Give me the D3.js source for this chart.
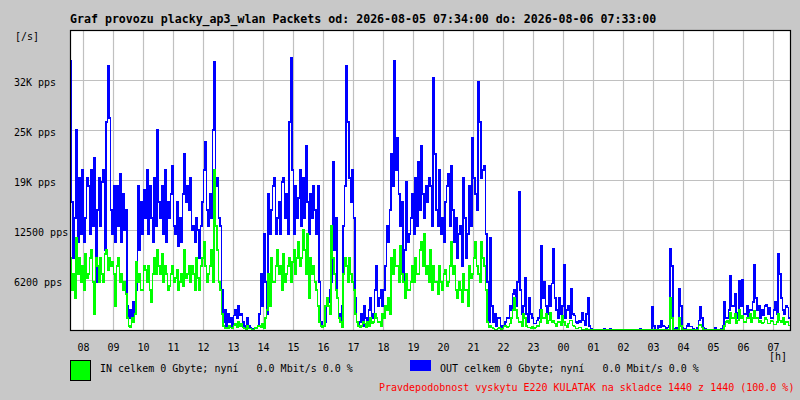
<!DOCTYPE html>
<html>
<head>
<meta charset="utf-8">
<script src="https://cdn.jsdelivr.net/npm/d3@7"></script>
<style>
body { margin: 0; background: #c8c8c8; }
svg { display: block; }
text { font-family: 'DejaVu Sans Mono', monospace; white-space: pre; }
</style>
</head>
<body>
<div class="chart"></div>
<script>
var titleText = 'Graf provozu placky_ap3_wlan Packets od: 2026-08-05 07:34:00 do: 2026-08-06 07:33:00';
var startTime = '2026-08-05T07:34:00';
var endTime = '2026-08-06T07:34:00';
var sampleMinutes = 3;
var yMax = 37.5; // thousands of packets/s
var yTickValues = [6.25, 12.5, 18.75, 25, 31.25];
var yTickLabels = ['6200 pps', '12500 pps', '19K pps', '25K pps', '32K pps'];
var inLegend = 'IN celkem 0 Gbyte; nyní   0.0 Mbit/s 0.0 %';
var outLegend = 'OUT celkem 0 Gbyte; nyní   0.0 Mbit/s 0.0 %';
var footText = 'Pravdepodobnost vyskytu E220 KULATAK na skladce 1440 z 1440 (100.0 %)';

// OUT, thousands of packets/s, one value per 3 minutes
var outValues = [
	33.7,16, 9,14, 25,11, 19,12, 20,11, 14,19, 18,12, 20,13, 21.5,6, 15,19,
	13,18.5, 20,10, 26,33, 26.5,15, 12,18, 11,18, 13,19.5, 11,17, 12.5,15, 3,1.5,
	2.5,1, 3.5,2, 5,18, 10,16, 12,17.5, 14,20, 12,18, 14,11, 19,13, 25,16,
	14,18, 12,20, 11,16, 14,17, 20.5,13, 12,16, 10.5,14, 11,17, 22,16, 18,15,
	19,12.5, 13,11, 14,12.5, 9,13, 16,20, 23.5,15, 13,17, 14,25, 33.5,18, 19,14,
	13,5, 1,2.5, 0.5,2, 1,1.5, 0.5,1.8, 2.5,1.5, 3,1.8, 2,1, 0.5,0.3, 1.5,0.5,
	0.3,0.2, 0.2,0.2, 0.3,0.5, 2,7, 3,12, 6,2, 17,12, 15,18, 19,12, 14,16,
	12,18.5, 19,14, 17,12, 26,34, 20,12, 18,14, 16.5,20, 13,19, 14,23, 16,12,
	17,14, 18,15, 12,18, 6,1, 0.5,0.5, 1,4, 3.5,5, 6,21, 10,14, 4,2,
	1,3, 13,18, 33,26, 19,16, 20,14, 4,1, 0.5,1, 2,0.5, 3,1.5, 1,2.5,
	4,1.5, 2,5, 8,3, 4,5, 3,5, 8,13, 11,15, 22,18, 33.7,20, 24,17,
	13,16, 6,10, 18.5,11, 12,14, 17,12, 19,13, 21,15, 23,17, 14,18, 16,19,
	18,13, 31.5,22, 15,13, 20,12, 14,11, 16,18, 19.5,13, 20.5,15, 11,14, 9,12,
	13,8, 19,14, 9,12, 18,13, 24,19, 17,15, 31,26, 19,20, 20.5,12, 6,1,
	11.5,3, 1,2, 0.5,1.5, 1.5,0.5, 0.3,0.5, 1,1.5, 1.5,3, 2.5,4.5, 5,3, 6,17.3,
	5,2, 3,6.5, 2,1, 4,2, 1.5,0.8, 0.8,1.2, 1.5,2.5, 10.5,4, 6,3, 2,5.5,
	3,5.8, 10.2,4, 2.5,1.5, 4,2, 3,8.2, 1.5,2.5, 3,1.5, 5.2,2, 1.8,1, 0.8,1.2,
	1,2.2, 1.2,0.6, 2,4, 0.5,0.2, 0,0, 0,0, 0,0, 0,0, 0.2,0, 0,0,
	0.2,0.1, 0,0, 0,0, 0,0, 0,0, 0,0, 0,0, 0,0, 0,0, 0,0,
	0.2,0, 0,0, 0,0, 0,0, 2.9,0.5, 0,0, 0.5,0.3, 1.2,0.5, 0.4,0.2, 0.3,0.5,
	10.2,8, 0.2,0.1, 0.3,0.2, 5.2,3, 0.3,0.2, 0.2,0.5, 0.8,0.4, 0.4,0.2, 0.1,0.1, 0.3,1.2,
	2.9,1.5, 0.3,0.2, 0.1,0, 0,0, 0,0, 0.3,0.1, 0,0, 0.2,0.5, 3.5,1.5, 1.5,2.5,
	6.8,3, 3,4.5, 2.2,1.5, 6.2,3, 6.3,2, 2,3, 1.5,2.5, 2.5,3.5, 8.2,4, 2.5,3,
	1.5,2.5, 1.8,3, 3.2,2, 2.8,1.5, 1.5,2.5, 3.5,2, 9.5,7, 4,2.5, 2,3, 2.8,1.5
];

// IN, thousands of packets/s, one value per 3 minutes
var inValues = [
	9,5, 7,4, 11.5,7, 9,6, 8,5, 9.5,6.5, 7,9, 10,6, 2,9, 8,6,
	9,7, 6,9.5, 10,7.5, 9,8, 8.5,7, 3,8, 9,6, 7,5, 6,4.5, 1.5,0.5,
	0.3,1.5, 1,2, 8.5,6, 7,5, 5,8, 7.5,6, 8,5, 3.5,7, 9,7, 10,8,
	7,9.5, 6,8, 7,5, 5.5,7, 8,6, 6.5,7.5, 5,6, 7,5.5, 10,6.5, 7,8,
	6,8, 7,5, 9,6.5, 5,8, 9,11, 8,6, 7,8, 10,6, 20,13, 10,6,
	5,2, 0.5,0.2, 0.3,0.2, 0.5,0.3, 0.2,0.6, 0.8,0.3, 1,0.5, 0.8,0.3, 0.2,0.1, 0.5,0.2,
	0.2,0.1, 0.1,0.3, 0.2,0.5, 0.5,0.3, 0.8,0.2, 1.5,2.5, 7,3, 9,6, 6,8, 10,7,
	8,5, 9.5,6, 7,8, 9,6, 8.5,10, 7,9, 11,8, 9,12.5, 10,7, 12,4,
	9,7, 8,6, 5,3, 1,0.5, 0.3,0.5, 3,4, 3,2, 13,9, 7,5, 4,1.5,
	1,0.3, 7,9, 8,6, 9,7, 6,5, 2,1, 0.5,0.3, 0.5,1, 0.8,0.3, 1,0.5,
	1.5,0.8, 1,2, 1.5,1, 1,0.5, 2,1.5, 3,2.5, 4,2, 9,7, 10,8, 8,6,
	10.5,7, 6,4, 7,5, 5,6, 8,6, 9,7, 7,10, 11,8, 12,7, 8,6,
	10,5, 8,6, 6,4.5, 8,6, 5,7, 7.5,5.5, 6,8, 11,7, 8,5, 4,6,
	5,3.5, 7,5, 5,3, 8,6.5, 7,9, 11,8, 7,6, 11,9, 8,5, 1,0.3,
	0.5,0.3, 0.2,0.1, 0.1,0.2, 0.3,0.1, 0.2,0.4, 0.5,0.3, 0.4,0.8, 1.5,2.5, 4,2.5, 1.5,1,
	1,0.5, 2,1.5, 0.5,0.3, 0.3,0.2, 0.4,0.2, 0.3,0.5, 0.5,1, 2.5,1.5, 1.5,2, 0.8,1.2,
	2.2,1, 1.2,0.8, 0.5,1, 1,0.6, 1.8,1, 0.6,0.3, 0.8,1.2, 1.2,0.6, 0.4,0.2, 0.2,0.3,
	0.3,0.1, 0.1,0.1, 0.2,0.1, 0,0, 0,0, 0,0, 0,0, 0,0, 0,0, 0,0,
	0,0, 0,0, 0,0, 0,0, 0,0, 0,0, 0,0, 0,0, 0,0, 0,0,
	0,0, 0,0, 0,0, 0,0, 0,0, 0,0, 0,0, 0,0, 0,0, 0,0,
	4,1.5, 0,0, 0,0, 1.5,0.5, 0,0, 0,0, 0,0, 0,0, 0,0, 0,0.6,
	0.7,0.3, 0,0, 0,0, 0,0, 0,0, 0,0, 0,0, 0,0, 0.5,1, 1.2,0.8,
	2.2,1.5, 1.5,2, 0.8,1.2, 2.5,1.5, 1.8,1, 0.9,1.5, 1.4,2, 1,1.5, 2.4,1.5, 1.6,1,
	1.2,0.8, 0.9,1.5, 1.3,0.8, 0.8,1.2, 1.1,0.7, 0.7,1, 2,1.2, 0.9,1.5, 0.7,1, 1,0.6
];

var width = 800, height = 400;
var plotLeft = 70, plotRight = 790, plotTop = 30, plotBottom = 330;
var fontSize = 10;
var gridColor = '#c0c0c0';

var parseTime = d3.timeParse('%Y-%m-%dT%H:%M:%S');
var t0 = parseTime(startTime), t1 = parseTime(endTime);

var svg = d3.select('.chart')
			.append('svg')
			.attr('width', width)
			.attr('height', height);

svg.append('rect')
	.attr('width', width)
	.attr('height', height)
	.attr('fill', '#c8c8c8');

var x = d3.scaleTime().domain([t0, t1]).range([plotLeft, plotRight]);
var y = d3.scaleLinear().domain([0, yMax]).range([plotBottom, plotTop]);

function toPoints(values){
	var pts = values.map(function(v, i){
		return {t: d3.timeMinute.offset(t0, i*sampleMinutes), v: v};
	});
	pts.push({t: t1, v: values[values.length-1]});
	return pts;
}

svg.append('rect')
	.attr('x', plotLeft)
	.attr('y', plotTop)
	.attr('width', plotRight - plotLeft)
	.attr('height', plotBottom - plotTop)
	.attr('fill', 'white');

// grid
var hourTicks = x.ticks(d3.timeHour.every(1));
svg.append('g')
	.selectAll('line')
	.data(hourTicks)
	.enter().append('line')
	.attr('x1', function(d){ return Math.round(x(d)) + 0.5; })
	.attr('x2', function(d){ return Math.round(x(d)) + 0.5; })
	.attr('y1', plotTop)
	.attr('y2', plotBottom)
	.attr('stroke', gridColor)
	.attr('stroke-width', 1.2);

svg.append('g')
	.selectAll('line')
	.data(yTickValues)
	.enter().append('line')
	.attr('x1', plotLeft)
	.attr('x2', plotRight)
	.attr('y1', function(d){ return Math.round(y(d)) + 0.5; })
	.attr('y2', function(d){ return Math.round(y(d)) + 0.5; })
	.attr('stroke', gridColor)
	.attr('stroke-width', 1.2);

svg.append('clipPath')
	.attr('id', 'plotclip')
	.append('rect')
	.attr('x', plotLeft)
	.attr('y', plotTop)
	.attr('width', plotRight - plotLeft)
	.attr('height', plotBottom - plotTop);

var line = d3.line()
	.x(function(d){ return x(d.t); })
	.y(function(d){ return y(d.v); })
	.curve(d3.curveStepAfter);

svg.append('path')
	.datum(toPoints(outValues))
	.attr('d', line)
	.attr('fill', 'none')
	.attr('stroke', '#0000ff')
	.attr('stroke-width', 1.2)
	.attr('shape-rendering', 'crispEdges')
	.attr('clip-path', 'url(#plotclip)');

svg.append('path')
	.datum(toPoints(inValues))
	.attr('d', line)
	.attr('fill', 'none')
	.attr('stroke', '#00ff00')
	.attr('stroke-width', 1.2)
	.attr('shape-rendering', 'crispEdges')
	.attr('clip-path', 'url(#plotclip)');

// frame
svg.append('rect')
	.attr('x', plotLeft + 0.5)
	.attr('y', plotTop + 0.5)
	.attr('width', plotRight - plotLeft)
	.attr('height', plotBottom - plotTop)
	.attr('fill', 'none')
	.attr('stroke', 'black')
	.attr('stroke-width', 1.2);

// y labels
svg.append('g')
	.selectAll('text')
	.data(yTickValues)
	.enter().append('text')
	.attr('x', 14)
	.attr('y', function(d){ return y(d) + 5.5; })
	.attr('font-size', fontSize)
	.attr('fill', 'black')
	.text(function(d, i){ return yTickLabels[i]; });

svg.append('text')
	.attr('x', 15)
	.attr('y', 40)
	.attr('font-size', fontSize)
	.text('[/s]');

// x labels
var hourFormat = d3.timeFormat('%H');
svg.append('g')
	.selectAll('text')
	.data(hourTicks)
	.enter().append('text')
	.attr('x', function(d){ return x(d) + 0.5; })
	.attr('y', 350.5)
	.attr('font-size', fontSize)
	.attr('text-anchor', 'middle')
	.text(function(d){ return hourFormat(d); });

svg.append('text')
	.attr('x', 769)
	.attr('y', 360)
	.attr('font-size', fontSize)
	.text('[h]');

// title
svg.append('text')
	.attr('x', 70)
	.attr('y', 23)
	.attr('font-size', 11.6)
	.attr('font-weight', 'bold')
	.text(titleText);

// legend
svg.append('rect')
	.attr('x', 70.5)
	.attr('y', 360.5)
	.attr('width', 20)
	.attr('height', 20)
	.attr('fill', '#00ff00')
	.attr('stroke', 'black');
svg.append('text')
	.attr('x', 100)
	.attr('y', 371.5)
	.attr('font-size', fontSize)
	.text(inLegend);

svg.append('rect')
	.attr('x', 410)
	.attr('y', 360)
	.attr('width', 21)
	.attr('height', 11)
	.attr('fill', '#0000ff');
svg.append('text')
	.attr('x', 440)
	.attr('y', 371.5)
	.attr('font-size', fontSize)
	.text(outLegend);

svg.append('text')
	.attr('x', 379)
	.attr('y', 391)
	.attr('font-size', fontSize)
	.attr('fill', '#ff0000')
	.text(footText);
</script>
</body>
</html>
